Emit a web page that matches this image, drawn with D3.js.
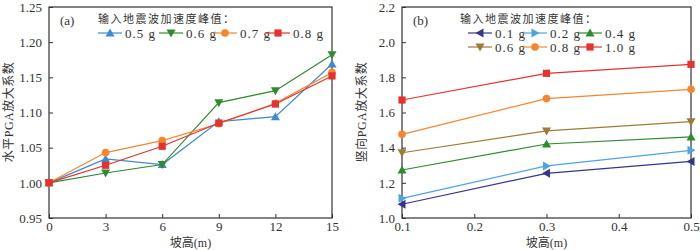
<!DOCTYPE html>
<html>
<head>
<meta charset="utf-8">
<script src="https://cdn.jsdelivr.net/npm/d3@7"></script>
<style>
  body { margin: 0; background: #fff; }
  text { font-family: "Liberation Serif", "Noto Sans CJK SC", serif; fill: #333; }
</style>
</head>
<body>
<div id="chart"></div>
<script>
// (a) horizontal PGA amplification vs slope height
const heightsA = [0, 3, 6, 9, 12, 15]
const seriesA = ["0.5 g", "0.6 g", "0.7 g", "0.8 g"]
const valuesA = [
  [1.000, 1.034, 1.026, 1.087, 1.094, 1.169],
  [1.000, 1.014, 1.026, 1.114, 1.131, 1.182],
  [1.000, 1.043, 1.060, 1.084, 1.113, 1.157],
  [1.000, 1.025, 1.052, 1.085, 1.112, 1.152]
]
const xTicksA = [0, 3, 6, 9, 12, 15]
const yTicksA = [0.95, 1.00, 1.05, 1.10, 1.15, 1.20, 1.25]

// (b) vertical PGA amplification
const heightsB = [0.1, 0.3, 0.5]
const seriesB = ["0.1 g", "0.2 g", "0.4 g", "0.6 g", "0.8 g", "1.0 g"]
const valuesB = [
  [1.078, 1.254, 1.322],
  [1.112, 1.296, 1.385],
  [1.273, 1.421, 1.461],
  [1.371, 1.495, 1.548],
  [1.476, 1.679, 1.732],
  [1.671, 1.823, 1.874]
]
const xTicksB = [0.1, 0.2, 0.3, 0.4, 0.5]
const yTicksB = [1.0, 1.2, 1.4, 1.6, 1.8, 2.0, 2.2]

const styleA = [
  {color: "#3d8ad0", sym: "up"},
  {color: "#2e8b2e", sym: "down"},
  {color: "#f5862e", sym: "circle"},
  {color: "#e5322d", sym: "square"}
]
const styleB = [
  {color: "#35358a", sym: "left"},
  {color: "#4fa3e0", sym: "right"},
  {color: "#2e8b2e", sym: "up"},
  {color: "#a07b35", sym: "down"},
  {color: "#f5862e", sym: "circle"},
  {color: "#e5322d", sym: "square"}
]

const svg = d3.select("#chart").append("svg")
  .attr("width", 700).attr("height", 250)

function marker(g, sym, color, cx, cy) {
  const s = 4
  if (sym === "circle") {
    g.append("circle").attr("cx", cx).attr("cy", cy).attr("r", 3.8).attr("fill", color)
  } else if (sym === "square") {
    g.append("rect").attr("x", cx - 3.6).attr("y", cy - 3.6).attr("width", 7.2).attr("height", 7.2).attr("fill", color)
  } else {
    let pts
    if (sym === "up") pts = [[0, -s - 0.5], [s + 0.5, s - 0.5], [-s - 0.5, s - 0.5]]
    if (sym === "down") pts = [[0, s + 0.5], [s + 0.5, -s + 0.5], [-s - 0.5, -s + 0.5]]
    if (sym === "left") pts = [[-s - 0.5, 0], [s - 0.5, -s - 0.5], [s - 0.5, s + 0.5]]
    if (sym === "right") pts = [[s + 0.5, 0], [-s + 0.5, -s - 0.5], [-s + 0.5, s + 0.5]]
    g.append("path").attr("d", "M" + pts.map(p => [cx + p[0], cy + p[1]].join(",")).join("L") + "Z")
      .attr("fill", color)
  }
}

function panel(opt) {
  const x = d3.scaleLinear().domain(opt.xDomain).range([opt.left, opt.right])
  const y = d3.scaleLinear().domain(opt.yDomain).range([218, 7])
  const g = svg.append("g")

  // axes with inward ticks
  g.append("g").attr("transform", "translate(0,218)")
    .call(d3.axisBottom(x).tickValues(opt.xTicks).tickSize(-4).tickPadding(4).tickFormat(opt.xFmt))
  g.append("g").attr("transform", `translate(${opt.left},0)`)
    .call(d3.axisLeft(y).tickValues(opt.yTicks).tickSize(-4).tickPadding(7).tickFormat(opt.yFmt))
  g.selectAll(".domain").remove()
  g.selectAll(".tick line").attr("stroke", "#333")
  g.selectAll(".tick text").attr("font-size", 13).attr("fill", "#333")
    .style("font-family", "Liberation Serif")
  g.append("rect").attr("x", opt.left).attr("y", 7)
    .attr("width", opt.right - opt.left).attr("height", 211)
    .attr("fill", "none").attr("stroke", "#333").attr("stroke-width", 1.2)

  const line = d3.line().x(d => x(d[0])).y(d => y(d[1]))
  opt.values.forEach((vals, i) => {
    const pts = opt.xs.map((h, j) => [h, vals[j]])
    g.append("path").datum(pts).attr("d", line)
      .attr("fill", "none").attr("stroke", opt.styles[i].color).attr("stroke-width", 1.2)
    const mg = g.append("g")
    pts.forEach(p => marker(mg, opt.styles[i].sym, opt.styles[i].color, x(p[0]), y(p[1])))
  })

  // labels
  g.append("text").attr("x", opt.left + 11).attr("y", 25).attr("font-size", 13).text(opt.tag)
  g.append("text").attr("x", (opt.left + opt.right) / 2).attr("y", 246.5)
    .attr("text-anchor", "middle").attr("font-size", 12).text("坡高(m)")
  g.append("text").attr("transform", `translate(${opt.left - 36},112) rotate(-90)`)
    .attr("text-anchor", "middle").attr("font-size", 12).attr("letter-spacing", 0.5).text(opt.yTitle)

  // legend
  g.append("text").attr("x", opt.legX).attr("y", 23).attr("font-size", 11)
    .attr("letter-spacing", 1.5).text("输入地震波加速度峰值：")
  opt.series.forEach((name, i) => {
    const lx = opt.legPos[i][0], ly = opt.legPos[i][1]
    g.append("line").attr("x1", lx).attr("x2", lx + 24).attr("y1", ly).attr("y2", ly)
      .attr("stroke", opt.styles[i].color).attr("stroke-width", 1.2)
    marker(g, opt.styles[i].sym, opt.styles[i].color, lx + 12, ly)
    g.append("text").attr("x", lx + 27).attr("y", ly + 4.5).attr("font-size", 13)
      .attr("letter-spacing", 1).text(name)
  })
}

panel({
  left: 49, right: 332, xDomain: [0, 15], yDomain: [0.95, 1.25],
  xTicks: xTicksA, yTicks: yTicksA, xFmt: d3.format("d"), yFmt: d3.format(".2f"),
  xs: heightsA, values: valuesA, series: seriesA, styles: styleA,
  tag: "(a)", yTitle: "水平PGA放大系数", legX: 98,
  legPos: [[98, 33], [159, 33], [213, 33], [266, 33]]
})

panel({
  left: 402, right: 691, xDomain: [0.1, 0.5], yDomain: [1.0, 2.2],
  xTicks: xTicksB, yTicks: yTicksB, xFmt: d3.format(".1f"), yFmt: d3.format(".1f"),
  xs: heightsB, values: valuesB, series: seriesB, styles: styleB,
  tag: "(b)", yTitle: "竖向PGA放大系数", legX: 460,
  legPos: [[468, 33], [523, 33], [578, 33], [468, 47], [523, 47], [578, 47]]
})
</script>
</body>
</html>
